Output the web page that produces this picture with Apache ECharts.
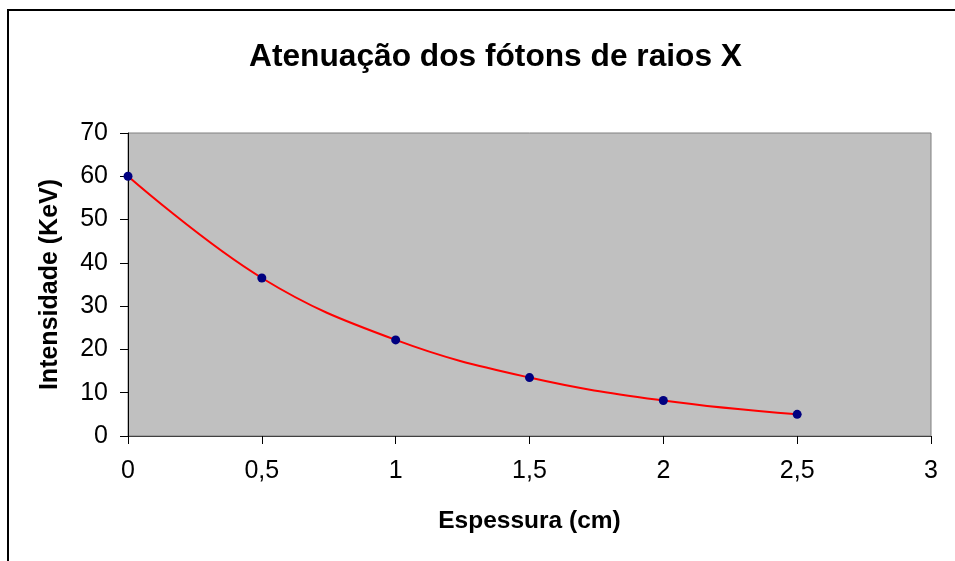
<!DOCTYPE html>
<html>
<head>
<meta charset="utf-8">
<script src="https://cdn.jsdelivr.net/npm/echarts@6/dist/echarts.min.js"></script>
<style>
html,body{margin:0;padding:0;background:#fff;}
#chart{width:955px;height:561px;}
</style>
</head>
<body>
<div id="chart"></div>
<script>
const thickness = [0, 0.5, 1, 1.5, 2, 2.5];
const intensity = [60, 36.5, 22.2, 13.5, 8.2, 5.0];
const titleText = 'Atenuação dos fótons de raios X';
const xName = 'Espessura (cm)';
const yName = 'Intensidade (KeV)';

const chart = echarts.init(document.getElementById('chart'));
const font = 'Liberation Sans, Arial, sans-serif';
chart.setOption({
  animation: false,
  backgroundColor: '#ffffff',
  graphic: [{
    type: 'rect',
    shape: { x: 8, y: 10, width: 1200, height: 1000 },
    style: { fill: 'none', stroke: '#000', lineWidth: 2 },
    z: 100
  }],
  title: {
    text: titleText,
    left: 244,
    top: 36,
    textStyle: { fontFamily: font, fontSize: 31.7, fontWeight: 'bold', color: '#000' }
  },
  grid: {
    left: 128, right: 24, top: 133, bottom: 125,
    show: true, backgroundColor: '#C0C0C0', borderColor: '#808080', borderWidth: 1
  },
  xAxis: {
    type: 'value', min: 0, max: 3, interval: 0.5,
    name: xName, nameLocation: 'middle', nameGap: 73,
    nameTextStyle: { fontFamily: font, fontSize: 24.5, fontWeight: 'bold', color: '#000' },
    axisLine: { show: true, lineStyle: { color: '#404040', width: 1 } },
    axisTick: { show: true, length: 8, lineStyle: { color: '#000' } },
    axisLabel: { margin: 23, fontFamily: font, fontSize: 25, color: '#000',
      formatter: v => String(v).replace('.', ',') },
    splitLine: { show: false }
  },
  yAxis: {
    type: 'value', min: 0, max: 70, interval: 10,
    name: yName, nameLocation: 'middle', nameGap: 65, nameRotate: 90,
    nameTextStyle: { fontFamily: font, fontSize: 25, fontWeight: 'bold', color: '#000' },
    axisLine: { show: true, lineStyle: { color: '#000', width: 1 } },
    axisTick: { show: true, length: 8, lineStyle: { color: '#000' } },
    axisLabel: { margin: 20, fontFamily: font, fontSize: 25, color: '#000' },
    splitLine: { show: false }
  },
  series: [{
    type: 'line',
    data: thickness.map((x, i) => [x, intensity[i]]),
    smooth: 0.4,
    symbol: 'circle', symbolSize: 9,
    itemStyle: { color: '#000080' },
    lineStyle: { color: '#FF0000', width: 2 }
  }]
});
</script>
</body>
</html>
